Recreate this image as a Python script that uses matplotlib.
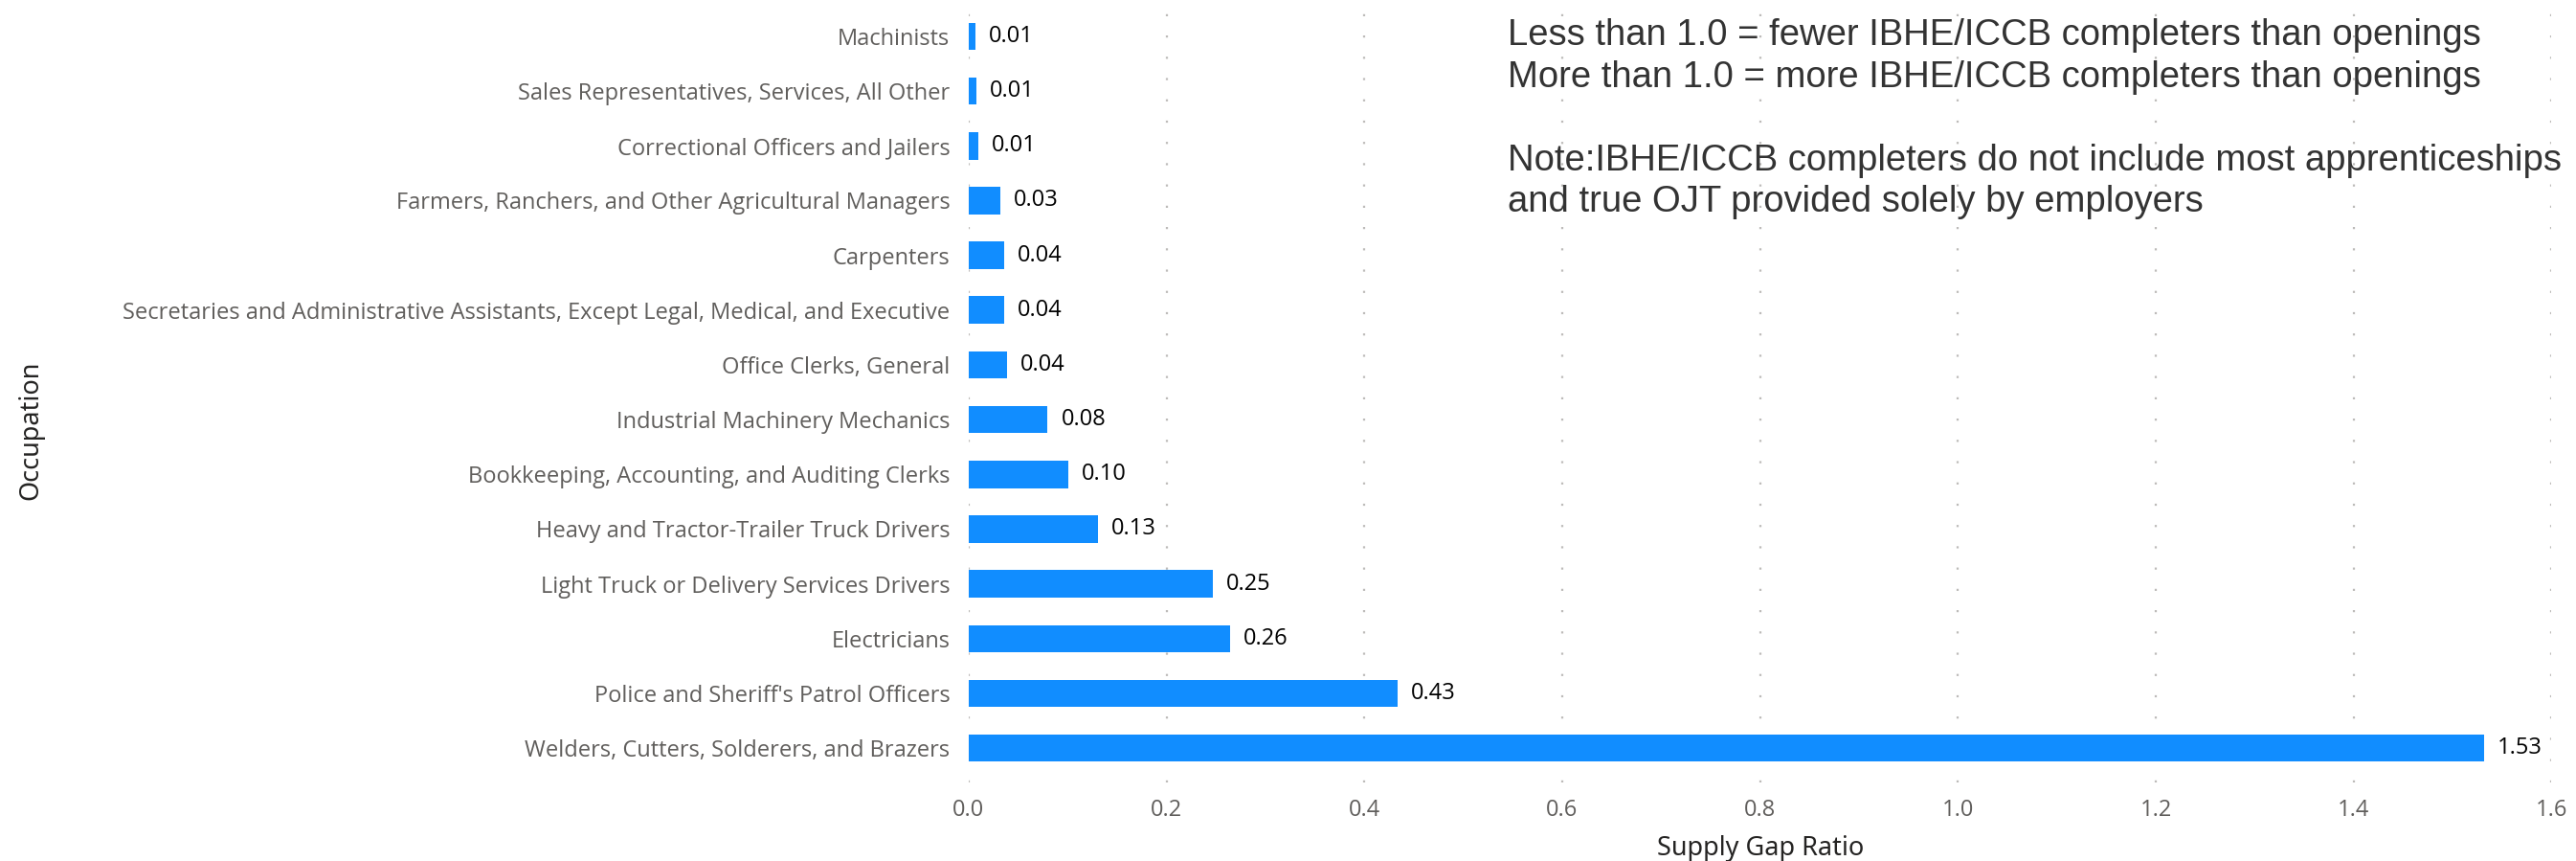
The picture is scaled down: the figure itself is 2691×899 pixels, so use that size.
import matplotlib
matplotlib.use("Agg")
import matplotlib.pyplot as plt

# Occupations listed bottom-to-top (largest ratio at the bottom)
occupations = [
    "Welders, Cutters, Solderers, and Brazers",
    "Police and Sheriff's Patrol Officers",
    "Electricians",
    "Light Truck or Delivery Services Drivers",
    "Heavy and Tractor-Trailer Truck Drivers",
    "Bookkeeping, Accounting, and Auditing Clerks",
    "Industrial Machinery Mechanics",
    "Office Clerks, General",
    "Secretaries and Administrative Assistants, Except Legal, Medical, and Executive",
    "Carpenters",
    "Farmers, Ranchers, and Other Agricultural Managers",
    "Correctional Officers and Jailers",
    "Sales Representatives, Services, All Other",
    "Machinists",
]
supply_gap_ratio = [1.532, 0.434, 0.264, 0.247, 0.131, 0.101, 0.080,
                    0.039, 0.036, 0.036, 0.032, 0.010, 0.008, 0.007]
x_ticks = [0.0, 0.2, 0.4, 0.6, 0.8, 1.0, 1.2, 1.4, 1.6]

note_text = ("Less than 1.0 = fewer IBHE/ICCB completers than openings\n"
             "More than 1.0 = more IBHE/ICCB completers than openings\n"
             "\n"
             "Note:IBHE/ICCB completers do not include most apprenticeships\n"
             "and true OJT provided solely by employers")

BAR_COLOR = "#118DFF"
TICK_COLOR = "#605E5C"
TITLE_COLOR = "#252423"

fig = plt.figure(figsize=(26.91, 8.99), dpi=100)
ax = fig.add_axes([0.376, 0.091, 0.6145, 0.898])

bars = ax.barh(range(len(occupations)), supply_gap_ratio, height=0.5,
               color=BAR_COLOR, zorder=2)
ax.bar_label(bars, fmt="%.2f", padding=10, fontsize=17,
             family="Open Sans", color="black")

ax.set_yticks(range(len(occupations)))
ax.set_yticklabels(occupations, family="Open Sans", fontsize=17,
                   color=TICK_COLOR)
ax.set_xticks(x_ticks)
ax.set_xticklabels([f"{t:.1f}" for t in x_ticks], family="Open Sans",
                   fontsize=17, color=TICK_COLOR)
ax.set_xlim(0, 1.6)
ax.set_ylim(-0.63, len(occupations) - 1 + 0.49)

ax.tick_params(axis="both", length=0)
ax.tick_params(axis="y", pad=14)
ax.tick_params(axis="x", pad=12)
ax.grid(axis="x", linestyle=(0, (1, 9)), color="#BDBBB9", linewidth=1.6,
        zorder=0)
for s in ax.spines.values():
    s.set_visible(False)

ax.set_xlabel("Supply Gap Ratio", family="Noto Sans", fontsize=19.5,
              color=TITLE_COLOR, labelpad=10)
ax.set_ylabel("Occupation", family="Noto Sans", fontsize=19.5,
              color=TITLE_COLOR)
ax.yaxis.set_label_coords(46 / 2691, 0.5, transform=fig.transFigure)

fig.text(1575 / 2691, 1 - 19 / 899, note_text, family="Liberation Sans",
         fontsize=27.5, color="#333333", va="top", ha="left",
         linespacing=1.27)

fig.savefig("out.png", dpi=100, facecolor="white")
